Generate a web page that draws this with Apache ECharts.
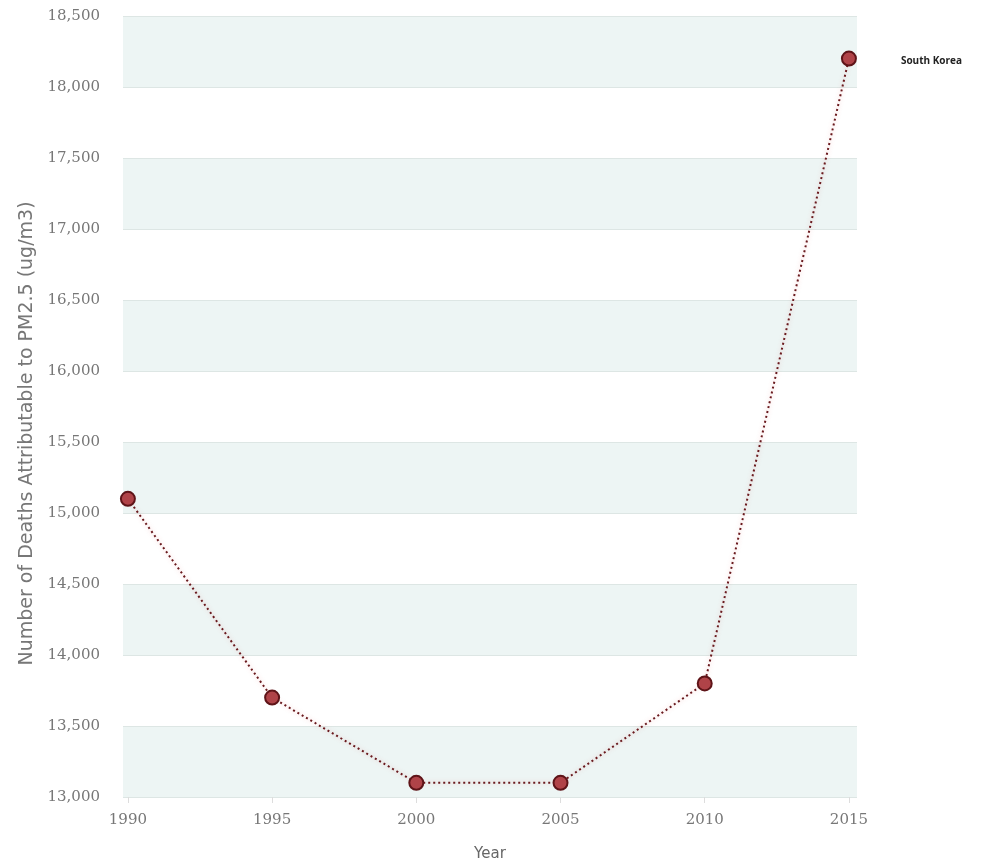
<!DOCTYPE html>
<html>
<head>
<meta charset="utf-8">
<script src="https://cdn.jsdelivr.net/npm/echarts@6/dist/echarts.min.js"></script>
<style>
html,body{margin:0;padding:0;background:#fff;}
#chart{width:988px;height:861px;}
</style>
</head>
<body>
<div id="chart"></div>
<script>
var years = [1990, 1995, 2000, 2005, 2010, 2015];
var deaths = [15100, 13700, 13100, 13100, 13800, 18200];
var seriesName = 'South Korea';
var yTicks = [13000, 13500, 14000, 14500, 15000, 15500, 16000, 16500, 17000, 17500, 18000, 18500];
var xTicks = [1990, 1995, 2000, 2005, 2010, 2015];

var chart = echarts.init(document.getElementById('chart'));
var fmt = function (v) { return v.toLocaleString('en-US'); };
chart.setOption({
  animation: false,
  backgroundColor: '#fff',
  grid: { left: 123, right: 131, top: 16, bottom: 64, containLabel: false, outerBoundsMode: 'none' },
  xAxis: {
    type: 'value',
    min: 1989.83,
    max: 2015.28,
    name: 'Year',
    nameLocation: 'middle',
    nameGap: 50,
    nameTextStyle: { fontFamily: 'DejaVu Sans', fontSize: 15, color: '#666' },
    axisLine: { show: false },
    axisTick: { show: true, customValues: xTicks, length: 6, lineStyle: { color: '#ddd' } },
    axisLabel: { customValues: xTicks, formatter: function (v) { return String(v); }, fontFamily: 'DejaVu Serif', fontSize: 15, color: '#777', margin: 16 },
    splitLine: { show: false }
  },
  yAxis: {
    type: 'value',
    min: 13000,
    max: 18500,
    interval: 500,
    name: 'Number of Deaths Attributable to PM2.5 (ug/m3)',
    nameLocation: 'middle',
    nameGap: 86,
    nameTextStyle: { fontFamily: 'DejaVu Sans', fontSize: 19, color: '#777', padding: [0, 54, 0, 0] },
    axisLine: { show: false },
    axisTick: { show: false },
    axisLabel: { formatter: fmt, fontFamily: 'DejaVu Serif', fontSize: 15, color: '#777', margin: 23 },
    splitLine: { show: true, lineStyle: { color: '#dde6e4', width: 1 } },
    splitArea: { show: true, areaStyle: { color: ['#edf5f4', '#ffffff'] } }
  },
  series: [{
    name: seriesName,
    type: 'line',
    data: years.map(function (y, i) { return [y, deaths[i]]; }),
    symbol: 'circle',
    symbolSize: 14,
    itemStyle: { color: '#b04348', borderColor: '#5e1418', borderWidth: 2 },
    lineStyle: { color: '#6a1a1e', width: 2, type: [2, 3], shadowColor: 'rgba(220,80,80,0.35)', shadowBlur: 4 },
    endLabel: {
      show: true,
      formatter: function () { return seriesName; },
      distance: 52,
      offset: [0, 3],
      fontFamily: 'Open Sans',
      fontWeight: 'bold',
      fontSize: 10,
      color: '#222'
    }
  }]
});
</script>
</body>
</html>
